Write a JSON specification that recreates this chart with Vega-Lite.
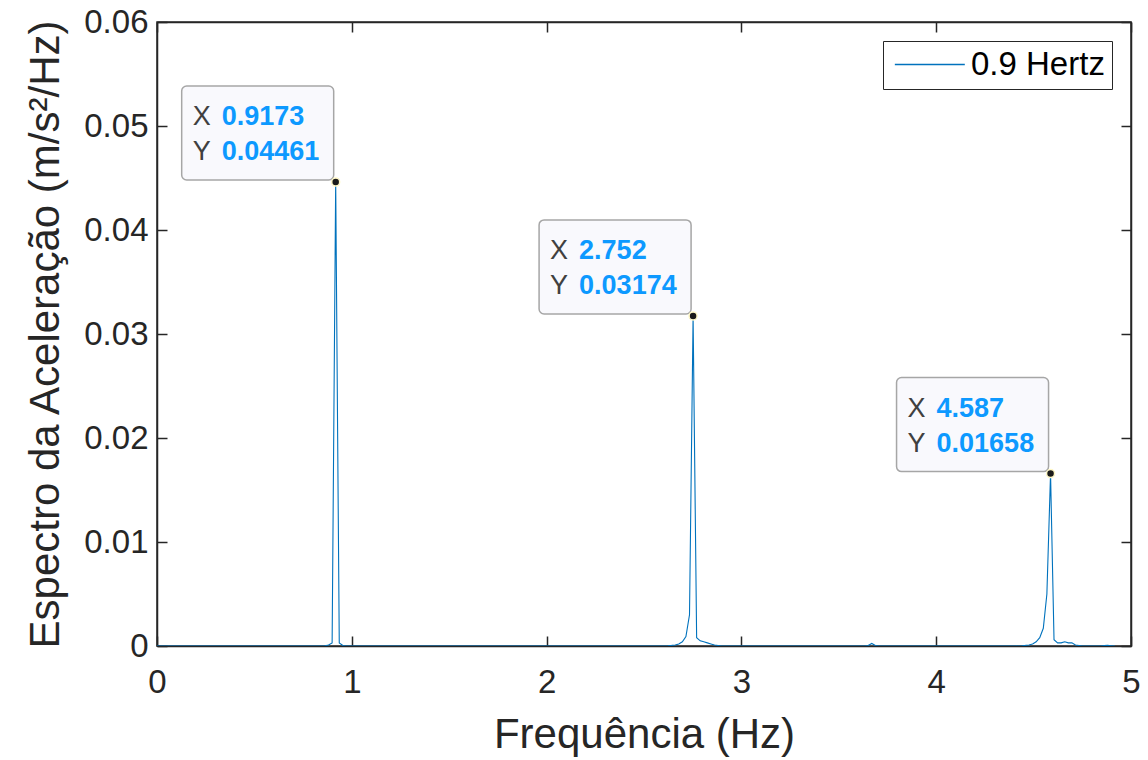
{
  "$schema": "https://vega.github.io/schema/vega-lite/v6.json",
  "width": 974,
  "height": 624,
  "autosize": {"type": "none"},
  "padding": {"left": 157, "top": 22, "right": 17, "bottom": 114},
  "background": "white",
  "config": {
    "font": "Liberation Sans",
    "view": {"stroke": "#262626", "strokeWidth": 1.5},
    "axis": {
      "grid": false,
      "domainColor": "#262626",
      "domainWidth": 1.5,
      "tickColor": "#262626",
      "tickWidth": 1.5,
      "tickSize": -10,
      "labelColor": "#262626",
      "titleColor": "#262626",
      "labelFont": "Liberation Sans",
      "titleFont": "Liberation Sans",
      "labelFontSize": 33,
      "titleFontSize": 42,
      "titleFontWeight": "normal",
      "labelFlush": false,
      "labelOverlap": false
    }
  },
  "datasets": {
    "spectrum": [
      {"f": 0, "v": 0}, {"f": 0.7338, "v": 0}, {"f": 0.8256, "v": 0}, {"f": 0.8623, "v": 0.00002},
      {"f": 0.8806, "v": 0.0001}, {"f": 0.899, "v": 0.0003}, {"f": 0.9173, "v": 0.04461},
      {"f": 0.9356, "v": 0.0003}, {"f": 0.954, "v": 0.00005}, {"f": 0.9723, "v": 0}, {"f": 1.009, "v": 0},
      {"f": 2.5684, "v": 0}, {"f": 2.6235, "v": 0.00003}, {"f": 2.6418, "v": 0.00006}, {"f": 2.6602, "v": 0.0001},
      {"f": 2.6785, "v": 0.0002}, {"f": 2.6969, "v": 0.0004}, {"f": 2.7152, "v": 0.0009}, {"f": 2.7336, "v": 0.003},
      {"f": 2.752, "v": 0.03174}, {"f": 2.7702, "v": 0.0008}, {"f": 2.7886, "v": 0.0005}, {"f": 2.8069, "v": 0.0004},
      {"f": 2.8253, "v": 0.0003}, {"f": 2.8436, "v": 0.0002}, {"f": 2.862, "v": 0.0001}, {"f": 2.8803, "v": 0.00005},
      {"f": 2.8987, "v": 0}, {"f": 3.6325, "v": 0}, {"f": 3.6509, "v": 0.00005}, {"f": 3.6692, "v": 0.00025},
      {"f": 3.6875, "v": 0.00005}, {"f": 3.7059, "v": 0}, {"f": 4.403, "v": 0}, {"f": 4.4397, "v": 0.00003},
      {"f": 4.4581, "v": 0.00006}, {"f": 4.4764, "v": 0.0001}, {"f": 4.4948, "v": 0.0002}, {"f": 4.5131, "v": 0.0004},
      {"f": 4.5315, "v": 0.0008}, {"f": 4.5498, "v": 0.0017}, {"f": 4.5682, "v": 0.005}, {"f": 4.587, "v": 0.01658},
      {"f": 4.6048, "v": 0.0006}, {"f": 4.6232, "v": 0.0003}, {"f": 4.6415, "v": 0.0003}, {"f": 4.6599, "v": 0.0004},
      {"f": 4.6782, "v": 0.0003}, {"f": 4.6965, "v": 0.0003}, {"f": 4.7149, "v": 0.0001}, {"f": 4.7332, "v": 0.00005},
      {"f": 4.7516, "v": 0}, {"f": 4.8434, "v": 0}, {"f": 4.8617, "v": 0.00004}, {"f": 4.88, "v": 0.00006},
      {"f": 4.8984, "v": 0.00003}, {"f": 4.9167, "v": 0}
    ],
    "tips": [
      {"f": 0.9173, "v": 0.04461, "xl": "0.9173", "yl": "0.04461"},
      {"f": 2.752, "v": 0.03174, "xl": "2.752", "yl": "0.03174"},
      {"f": 4.587, "v": 0.01658, "xl": "4.587", "yl": "0.01658"}
    ]
  },
  "layer": [
    {
      "data": {"name": "spectrum"},
      "mark": {"type": "line", "strokeWidth": 1.1, "clip": true},
      "encoding": {
        "x": {
          "field": "f", "type": "quantitative",
          "scale": {"domain": [0, 5], "nice": false},
          "axis": {"orient": "bottom", "values": [0, 1, 2, 3, 4, 5], "format": "d", "title": "Frequência (Hz)", "labelPadding": 30, "titlePadding": 15}
        },
        "y": {
          "field": "v", "type": "quantitative",
          "scale": {"domain": [0, 0.06], "nice": false},
          "axis": {"orient": "left", "values": [0, 0.01, 0.02, 0.03, 0.04, 0.05, 0.06], "format": ".2~f", "title": "Espectro da Aceleração (m/s²/Hz)", "labelPadding": 19, "titlePadding": 16}
        },
        "color": {
          "datum": "0.9 Hertz",
          "scale": {"range": ["#0072BD"]},
          "legend": {
            "orient": "top-right", "offset": 19, "title": null,
            "strokeColor": "#262626", "fillColor": "white", "padding": 7,
            "labelFontSize": 33, "labelFont": "Liberation Sans", "labelColor": "#000000",
            "symbolType": "M-1,0H5", "symbolSize": 544, "symbolStrokeWidth": 1.5, "labelOffset": 48
          }
        }
      }
    },
    {
      "data": {"name": "tips"},
      "mark": {"type": "rect", "width": 152, "height": 94, "xOffset": -78, "yOffset": -49, "fill": "#f9f9fd", "stroke": "#a6a6a6", "strokeWidth": 1.5, "cornerRadius": 5},
      "encoding": {
        "x": {"field": "f", "type": "quantitative", "axis": {"orient": "top", "labels": false, "title": null, "values": [0, 1, 2, 3, 4, 5]}},
        "y": {"field": "v", "type": "quantitative", "axis": {"orient": "right", "labels": false, "title": null, "values": [0, 0.01, 0.02, 0.03, 0.04, 0.05, 0.06]}}
      }
    },
    {
      "data": {"name": "tips"},
      "mark": {"type": "text", "text": "X", "align": "left", "baseline": "middle", "dx": -143, "dy": -65, "fontSize": 27, "color": "#404040", "font": "Liberation Sans"},
      "encoding": {
        "x": {"field": "f", "type": "quantitative", "axis": null},
        "y": {"field": "v", "type": "quantitative", "axis": null}
      }
    },
    {
      "data": {"name": "tips"},
      "mark": {"type": "text", "text": "Y", "align": "left", "baseline": "middle", "dx": -143, "dy": -30, "fontSize": 27, "color": "#404040", "font": "Liberation Sans"},
      "encoding": {
        "x": {"field": "f", "type": "quantitative", "axis": null},
        "y": {"field": "v", "type": "quantitative", "axis": null}
      }
    },
    {
      "data": {"name": "tips"},
      "mark": {"type": "text", "align": "left", "baseline": "middle", "dx": -114, "dy": -65, "fontSize": 27, "fontWeight": "bold", "color": "#0d99ff", "font": "Liberation Sans"},
      "encoding": {
        "x": {"field": "f", "type": "quantitative", "axis": null},
        "y": {"field": "v", "type": "quantitative", "axis": null},
        "text": {"field": "xl"}
      }
    },
    {
      "data": {"name": "tips"},
      "mark": {"type": "text", "align": "left", "baseline": "middle", "dx": -114, "dy": -30, "fontSize": 27, "fontWeight": "bold", "color": "#0d99ff", "font": "Liberation Sans"},
      "encoding": {
        "x": {"field": "f", "type": "quantitative", "axis": null},
        "y": {"field": "v", "type": "quantitative", "axis": null},
        "text": {"field": "yl"}
      }
    },
    {
      "data": {"name": "tips"},
      "mark": {"type": "point", "shape": "circle", "filled": true, "size": 64, "fill": "#1a1a1a", "stroke": "#fff8c8", "strokeWidth": 1.5, "opacity": 1},
      "encoding": {
        "x": {"field": "f", "type": "quantitative", "axis": null},
        "y": {"field": "v", "type": "quantitative", "axis": null}
      }
    }
  ],
  "resolve": {"axis": {"x": "independent", "y": "independent"}}
}
